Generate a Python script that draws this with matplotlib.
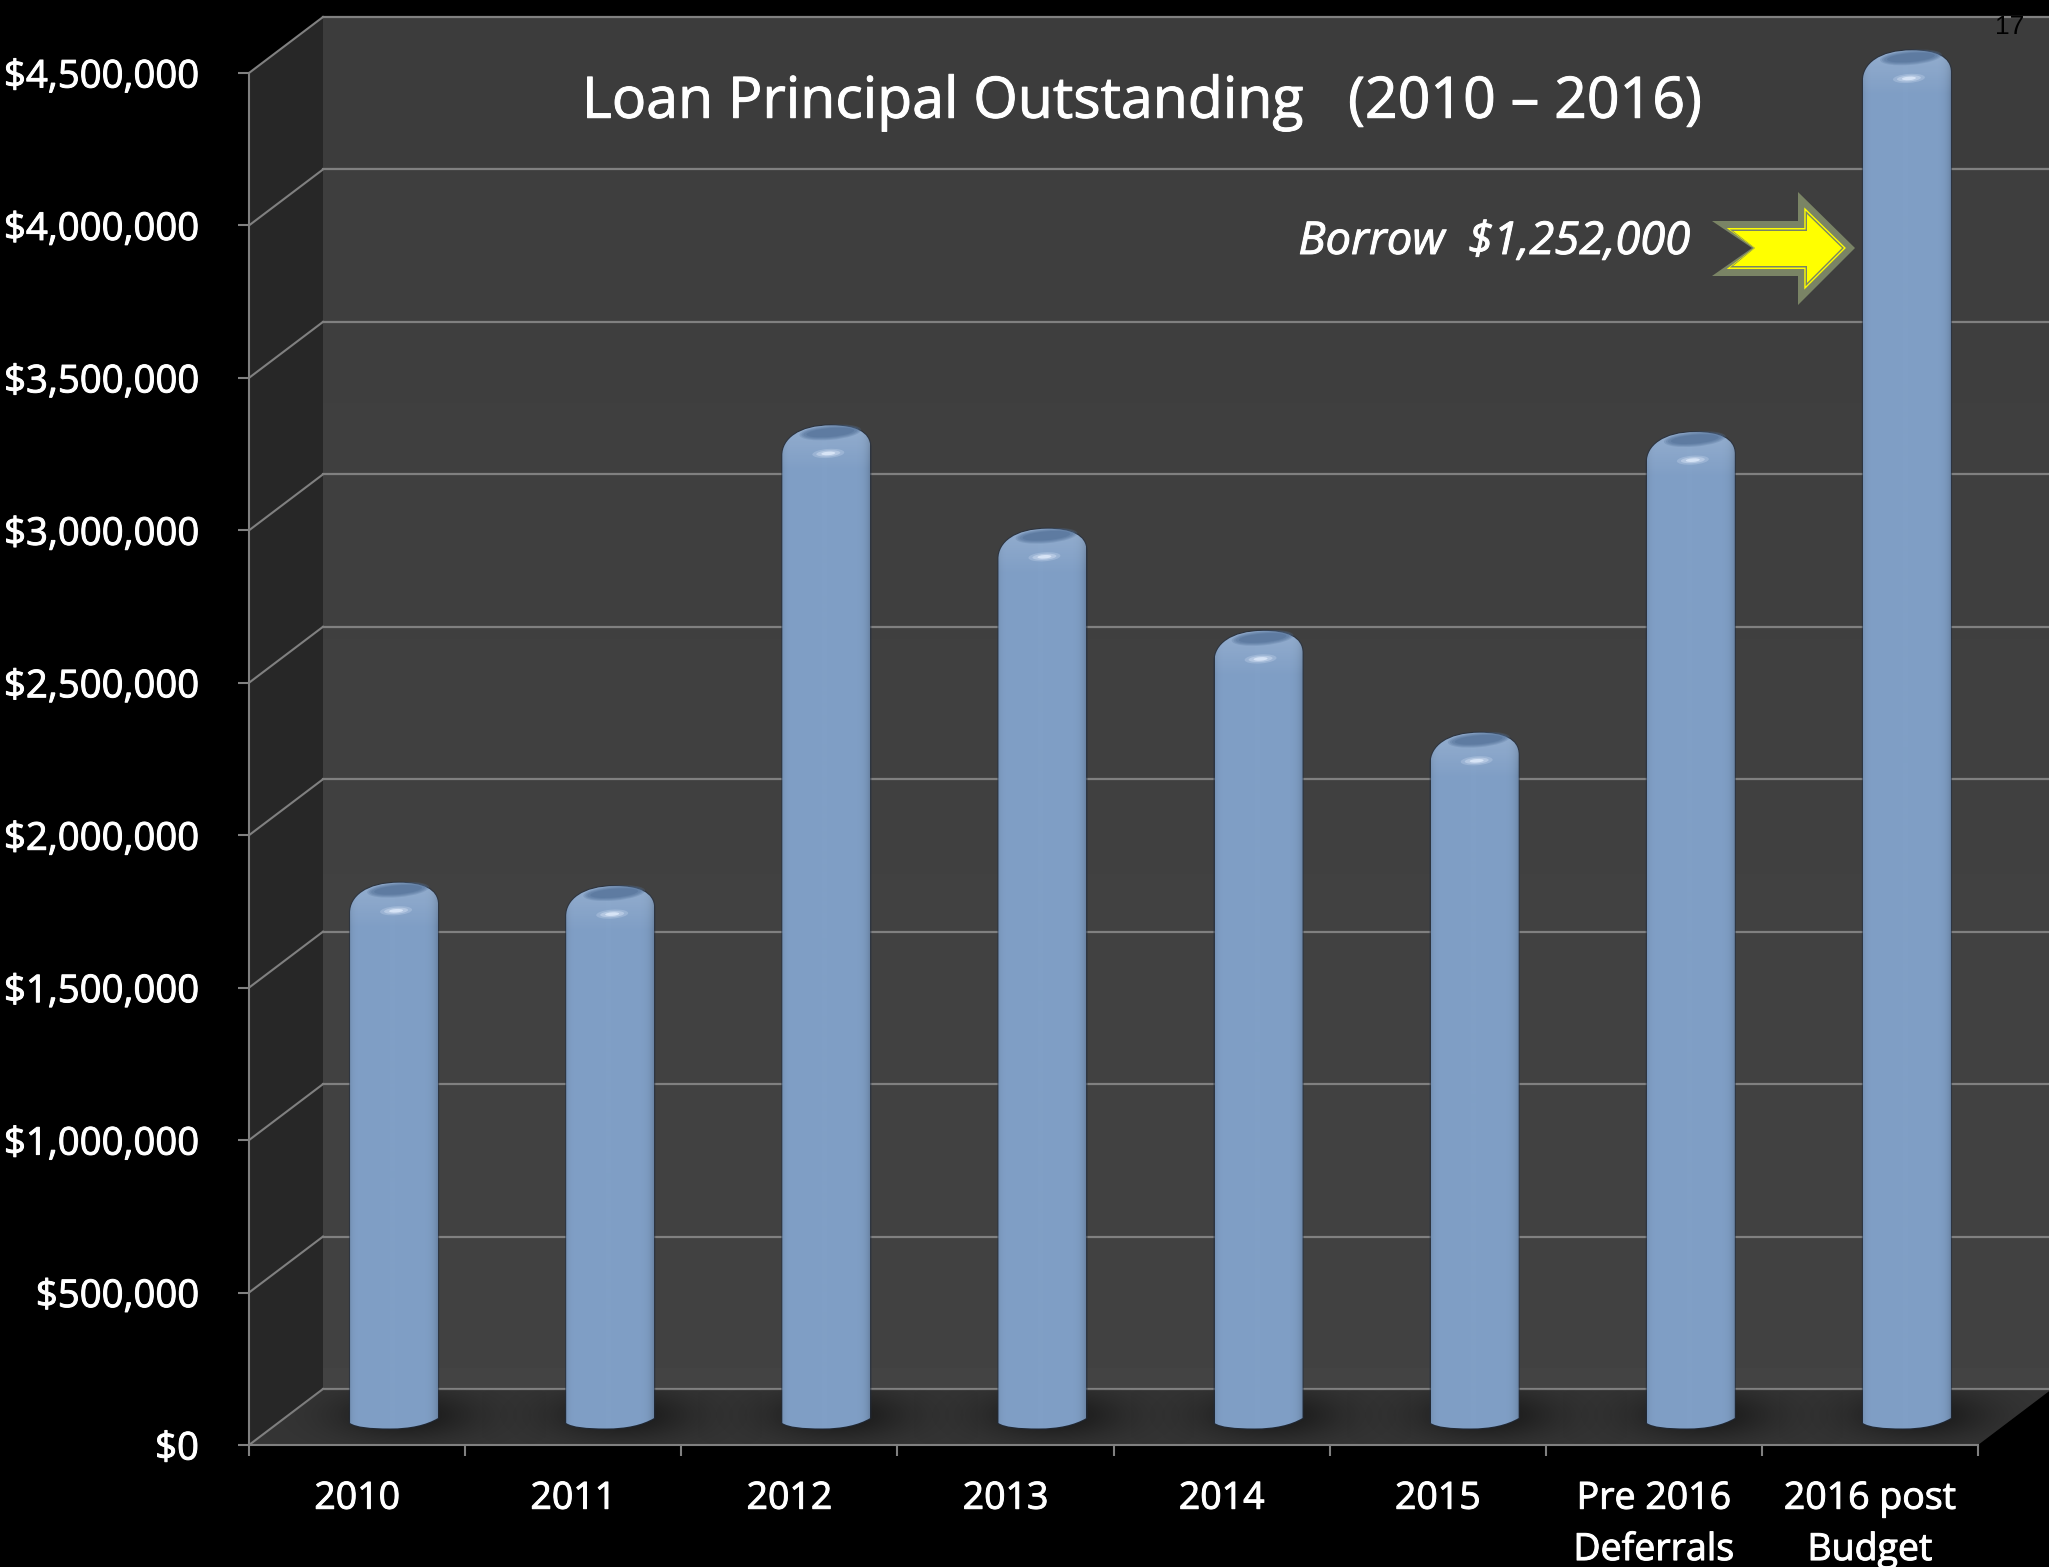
import numpy as np
import matplotlib
matplotlib.use("Agg")
import matplotlib.pyplot as plt
import matplotlib.patheffects as pe
from matplotlib.patches import Polygon, PathPatch, Ellipse
from matplotlib.path import Path
from matplotlib.transforms import Affine2D

# Loan principal outstanding by period
categories = ["2010", "2011", "2012", "2013", "2014", "2015",
              "Pre 2016\nDeferrals", "2016 post\nBudget"]
principal = [1726000, 1715000, 3226000, 2887000, 2552000, 2218000, 3204000, 4456000]
y_ticks = [0, 500000, 1000000, 1500000, 2000000, 2500000, 3000000, 3500000, 4000000, 4500000]
y_tick_labels = ["$0", "$500,000", "$1,000,000", "$1,500,000", "$2,000,000",
                 "$2,500,000", "$3,000,000", "$3,500,000", "$4,000,000", "$4,500,000"]
title_text = "Loan Principal Outstanding   (2010 \u2013 2016)"
callout_text = "Borrow  $1,252,000"

W, H = 2049, 1567
GRID = "#808080"
FONT = "Open Sans"
HEAVY = [pe.withStroke(linewidth=0.7, foreground="white")]

# Pixel geometry of the front plane of the chart box
LEFT, RIGHT, BASE, TOP = 249, 1978, 1445, 73
n = len(categories)
PX_X = n / (RIGHT - LEFT)            # category units per pixel
PX_Y = 4500000 / (BASE - TOP)        # dollars per pixel
DX, DY = 74 * PX_X, 56 * PX_Y        # depth of the oblique box

fig = plt.figure(figsize=(W / 100, H / 100), dpi=100, facecolor="black")
ax = fig.add_axes([LEFT / W, 1 - BASE / H, (RIGHT - LEFT) / W, (BASE - TOP) / H])
ax.set_facecolor("none")
ymax = y_ticks[-1]


def unclip(artist, clip=None):
    artist.set_clip_box(fig.bbox)
    if clip is not None:
        artist.set_clip_path(clip)
    else:
        artist.set_clip_on(True)
        artist.set_clip_path(None)
    return artist


# Back wall with a slight vertical gradient
wall = np.linspace(0.24, 0.262, 64).reshape(-1, 1)
unclip(ax.imshow(wall, extent=(DX, n + DX, DY, ymax + DY), cmap="gray", vmin=0, vmax=1,
                 aspect="auto", origin="upper", zorder=1))

# Side wall and floor
ax.add_patch(Polygon([(0, 0), (DX, DY), (DX, ymax + DY), (0, ymax)], closed=True,
                     facecolor="#272727", edgecolor="none", zorder=1, clip_on=False))
floor = Polygon([(0, 0), (n, 0), (n + DX, DY), (DX, DY)], closed=True,
                facecolor="#353535", edgecolor="none", zorder=1, clip_on=False)
ax.add_patch(floor)

# Gridlines across the back wall and the side wall
for v in y_ticks:
    ax.plot([0, DX], [v, v + DY], color=GRID, lw=1.5, zorder=2, clip_on=False)
    ax.plot([DX, n + DX], [v + DY, v + DY], color=GRID, lw=1.6, zorder=2, clip_on=False)

# Soft shadows on the floor
yy, xx = np.mgrid[-1:1:120j, -1:1:240j]
soft = np.exp(-((xx / 0.5) ** 2 + (yy / 0.5) ** 2))
shadow = np.zeros(soft.shape + (4,))
shadow[..., 3] = soft * 0.5
for i in range(n):
    cx = i + 0.5 + DX / 2 + 12 * PX_X
    cy = DY / 2 + 2 * PX_Y
    im = ax.imshow(shadow, extent=(cx - 140 * PX_X, cx + 140 * PX_X, cy - 48 * PX_Y, cy + 48 * PX_Y),
                   aspect="auto", zorder=3)
    unclip(im, floor)

# Cylinders: horizontal shading clipped to a rounded outline
u = np.linspace(-1, 1, 88)
edge = 1 - 0.16 * np.clip(u, 0, 1) ** 10 - 0.08 * np.clip(-u, 0, 1) ** 14
body = np.outer(edge, [0x80, 0x9F, 0xC6]) / 0xFF
body = np.clip(body, 0, 1)[np.newaxis, :, :]
glow = np.zeros((40, 1, 4))
glow[..., :3] = 1
glow[..., 3] = np.linspace(0.17, 0, 40).reshape(-1, 1)

HALF = 44
for i, v in enumerate(principal):
    cx = i + 0.5 + DX / 2
    base = DY / 2
    top = v + DY / 2

    def T(dx, dy):
        return (cx + dx * PX_X, top + dy * PX_Y)

    def B(dx, dy):
        return (cx + dx * PX_X, base + dy * PX_Y)

    verts = [B(-HALF, -6), T(-HALF, -22),
             T(-HALF, -6), T(-28, 8), T(5, 8),
             T(28, 8), T(HALF, 2), T(HALF, -14),
             B(HALF, -1),
             B(32, -8), B(16, -11.5), B(-4, -11.5),
             B(-24, -11.5), B(-38, -10), B(-HALF, -6),
             B(-HALF, -6)]
    codes = [Path.MOVETO, Path.LINETO,
             Path.CURVE4, Path.CURVE4, Path.CURVE4,
             Path.CURVE4, Path.CURVE4, Path.CURVE4,
             Path.LINETO,
             Path.CURVE4, Path.CURVE4, Path.CURVE4,
             Path.CURVE4, Path.CURVE4, Path.CURVE4,
             Path.CLOSEPOLY]
    shape = Path(verts, codes)
    # Thin dark rim around the cylinder
    ax.add_patch(PathPatch(shape, facecolor="none", edgecolor="#1f2c40", lw=1.6, alpha=0.55,
                           zorder=4, clip_on=False))
    outline = PathPatch(shape, facecolor="none", edgecolor="none", zorder=4, clip_on=False)
    ax.add_patch(outline)
    unclip(ax.imshow(body, extent=(cx - HALF * PX_X, cx + HALF * PX_X, -30 * PX_Y, top + 12 * PX_Y),
                     aspect="auto", zorder=4), outline)
    unclip(ax.imshow(glow, extent=(cx - HALF * PX_X, cx + HALF * PX_X, top - 38 * PX_Y, top + 10 * PX_Y),
                     aspect="auto", origin="upper", zorder=5), outline)

    # Shaped cap and specular highlight, sized in pixels around the bar top
    local = Affine2D().scale(PX_X, PX_Y).translate(cx, top) + ax.transData
    for w, h, a in [(62, 15, 0.25), (58, 13, 0.3), (54, 11, 0.35), (48, 9, 0.5)]:
        ax.add_patch(Ellipse((4, 1), w, h, angle=5, facecolor="#55739a", edgecolor="none",
                             alpha=a, transform=local, zorder=6, clip_on=False))
    for w, h, a in [(32, 9, 0.22), (24, 6, 0.35), (14, 3.5, 0.7)]:
        ax.add_patch(Ellipse((2, -20), w, h, angle=4, facecolor="#e6f0ff", edgecolor="none",
                             alpha=a, transform=local, zorder=6, clip_on=False))

# Axes, ticks and labels
ax.set_xlim(0, n)
ax.set_ylim(0, ymax)
for side in ("top", "right"):
    ax.spines[side].set_visible(False)
for side in ("left", "bottom"):
    ax.spines[side].set_color(GRID)
    ax.spines[side].set_linewidth(1.5)
    ax.spines[side].set_zorder(7)

ax.set_yticks(y_ticks)
ax.set_yticklabels(y_tick_labels, fontfamily=FONT, fontsize=27.6, color="white", path_effects=HEAVY)
ax.tick_params(axis="y", length=8, width=1.5, color=GRID, pad=28)

ax.set_xticks(np.arange(n + 1))
ax.set_xticklabels([])
ax.tick_params(axis="x", which="major", length=8, width=1.5, color=GRID)
ax.set_xticks(np.arange(n) + 0.5, minor=True)
ax.set_xticklabels(categories, minor=True, fontfamily=FONT, fontsize=27, color="white",
                   linespacing=1.46, path_effects=HEAVY)
ax.tick_params(axis="x", which="minor", length=0, pad=25)

# Title and callout
fig.text(1142 / W, 1 - 103 / H, title_text, color="white", fontsize=41.2, fontfamily=FONT,
         ha="center", va="center", zorder=10, path_effects=HEAVY)
fig.text(1494 / W, 1 - 242 / H, callout_text, color="white", fontsize=32.6, fontfamily=FONT,
         style="italic", ha="center", va="center", zorder=10, path_effects=HEAVY)
fig.text(2010 / W, 1 - 27 / H, "17", color="black", fontsize=19, fontfamily="Liberation Sans",
         ha="center", va="center", zorder=10)


def arrow_shape(inset):
    """Notched block arrow in figure pixels, pulled in by inset on every side."""
    pts = [(1712 + 2.1 * inset, 221 + inset), (1752 + inset * 0.3, 248),
           (1712 + 2.1 * inset, 276 - inset), (1798 + 0.9 * inset, 276 - inset),
           (1798 + 0.9 * inset, 305 - 2.2 * inset), (1855 - 1.3 * inset, 248),
           (1798 + 0.9 * inset, 192 + 2.2 * inset), (1798 + 0.9 * inset, 221 + inset)]
    return [(x / W, 1 - y / H) for x, y in pts]


for inset, color in [(0, "#7a8465"), (7, "#ffff00"), (8.5, "#7a8465"), (10, "#ffff00")]:
    fig.add_artist(Polygon(arrow_shape(inset), closed=True, transform=fig.transFigure,
                           facecolor=color, edgecolor="none", zorder=9))

fig.savefig("out.png", dpi=100, facecolor="black")
